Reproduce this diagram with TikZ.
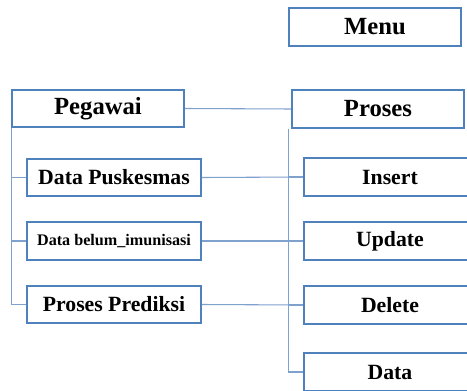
\documentclass[tikz,border=0pt]{standalone}
\usepackage{fontspec}
\setmainfont{Liberation Serif}
\usetikzlibrary{calc}
\definecolor{mnBoxStroke}{HTML}{4F81BD}
\definecolor{mnLink}{HTML}{7EA1CE}

\begin{document}
\begin{tikzpicture}[x=0.75pt,y=0.75pt,
  font=\bfseries\fontsize{16.3}{19}\selectfont,
  mnbox/.style={draw=mnBoxStroke,line width=1.6pt,fill=white,
    minimum width=172*0.75pt,minimum height=37.5*0.75pt,inner sep=0pt},
  mntop/.style={font=\bfseries\fontsize{18.5}{21}\selectfont},
  mnsmall/.style={font=\bfseries\fontsize{12.1}{14}\selectfont},
  mnlink/.style={draw=mnLink,line width=0.8pt}]
  \fill[white] (0,0) rectangle (467,390);
  \clip (0,0) rectangle (467,390);
  \path[use as bounding box] (0,0) rectangle (467,390);

  % top row
  \node[mnbox,mntop] (menu) at (375,363) {Menu};
  \node[mnbox,mntop] (pegawai) at (98,281.5) {Pegawai};
  \node[mnbox,mntop] (proses) at (378,281) {Proses};

  % left column under Pegawai
  \node[mnbox,minimum width=174*0.75pt] (dpusk) at (114,212.5) {Data Puskesmas};
  \node[mnbox,minimum width=174*0.75pt,mnsmall] (dbelum) at (114,149) {Data belum\_imunisasi};
  \node[mnbox,minimum width=174*0.75pt] (pred) at (114,85.5) {Proses Prediksi};

  % right column under Proses
  \foreach \n/\t/\y in {insert/Insert/213,update/Update/149,delete/Delete/85,data/Data/18}
    {\node[mnbox] (\n) at (390,\y) {\t};}

  % connectors
  \draw[mnlink] (pegawai.east) -- (proses.west);
  \foreach \n in {dpusk,dbelum,pred}
    {\draw[mnlink] ([xshift=0.75pt]pegawai.south west) |- (\n.west);}
  \foreach \n in {insert,update,delete,data}
    {\draw[mnlink] ([xshift=-1.5pt]proses.south west) |- (\n.west);}
  \draw[mnlink] (dpusk.east) -- (insert.west);
  \draw[mnlink] (dbelum.east) -- (update.west);
  \draw[mnlink] (pred.east) -- (delete.west);
\end{tikzpicture}
\end{document}
